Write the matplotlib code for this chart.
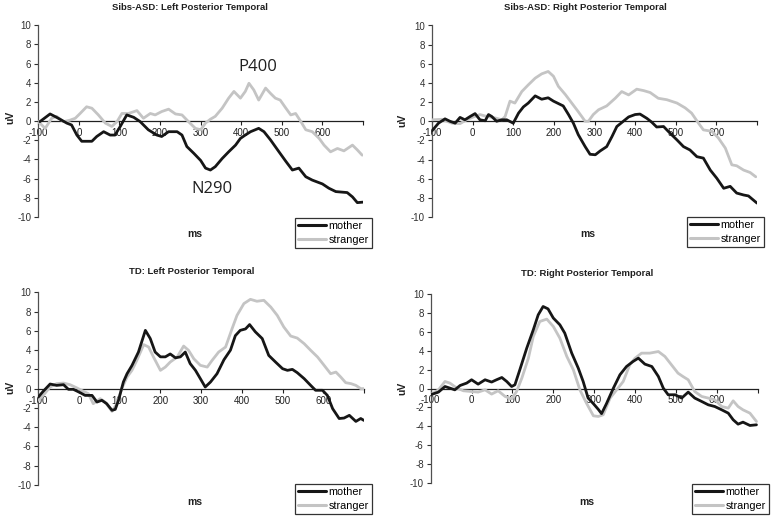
import numpy as np
import matplotlib
matplotlib.use("Agg")
import matplotlib.pyplot as plt

plt.rcParams['font.family'] = ['Liberation Sans', 'DejaVu Sans']

# --- data (ms, uV) ---
titles = ["Sibs-ASD: Left Posterior Temporal", "Sibs-ASD: Right Posterior Temporal",
          "TD: Left Posterior Temporal", "TD: Right Posterior Temporal"]
series_names = ["mother", "stranger"]
xticks = [-100, 0, 100, 200, 300, 400, 500, 600, 700]
xtick_labels = ["-100", "0", "100", "200", "300", "400", "500", "600", ""]
yticks = [-10, -8, -6, -4, -2, 0, 2, 4, 6, 8, 10]

asd_left_mother_t = [-96, -71, -55, -30, -18, -5, 7, 32, 44, 61, 77, 89, 102, 118, 135, 151, 171, 192, 204,
                     221, 242, 254, 266, 283, 300, 312, 324, 336, 353, 369, 386, 398, 410, 423, 443, 456, 472,
                     493, 510, 526, 542, 559, 575, 600, 616, 633, 661, 674, 686, 700]
asd_left_mother_v = [-0.05, 0.75, 0.4, -0.2, -0.4, -1.45, -2.1, -2.1, -1.6, -1.1, -1.45, -1.45, -0.55, 0.65,
                     0.4, -0.05, -0.9, -1.45, -1.6, -1.1, -1.1, -1.45, -2.65, -3.35, -4.1, -4.9, -5.1, -4.75,
                     -3.9, -3.2, -2.5, -1.8, -1.45, -1.1, -0.75, -1.1, -1.95, -3.2, -4.2, -5.1, -4.9, -5.8,
                     -6.15, -6.55, -7.0, -7.35, -7.45, -7.9, -8.5, -8.45]
asd_left_stranger_t = [-100, -83, -67, -55, -38, -22, -9, 3, 19, 32, 48, 65, 81, 94, 106, 122, 143, 159, 176,
                       188, 204, 221, 238, 254, 270, 287, 300, 312, 324, 336, 353, 369, 382, 398, 410, 419,
                       431, 443, 460, 472, 484, 496, 510, 522, 534, 547, 559, 575, 592, 604, 620, 637, 653,
                       674, 686, 698]
asd_left_stranger_v = [-0.05, -0.75, 0.3, 0.5, -0.05, 0.1, 0.3, 0.8, 1.5, 1.35, 0.65, -0.2, -0.55, -0.05,
                       0.8, 0.8, 1.1, 0.3, 0.8, 0.65, 1.0, 1.25, 0.75, 0.65, -0.05, -0.75, -0.9, -0.2, 0.2,
                       0.5, 1.35, 2.4, 3.1, 2.4, 3.1, 3.95, 3.25, 2.2, 3.45, 2.9, 2.4, 2.2, 1.35, 0.65, 0.8,
                       -0.05, -0.9, -1.1, -1.8, -2.5, -3.2, -2.85, -3.1, -2.5, -3.0, -3.55]

asd_right_mother_t = [-100, -84, -68, -56, -43, -31, -19, -6, 6, 18, 31, 39, 47, 59, 72, 84, 100, 113, 125,
                      137, 154, 170, 186, 199, 211, 223, 236, 248, 260, 277, 289, 302, 314, 330, 343, 355,
                      371, 384, 400, 412, 429, 441, 453, 470, 486, 503, 519, 535, 552, 568, 585, 601, 618,
                      634, 650, 667, 679, 700]
asd_right_mother_v = [-1.0, -0.2, 0.25, 0, -0.2, 0.4, 0.15, 0.5, 0.8, 0.15, 0.05, 0.7, 0.5, 0, 0.15, 0.15,
                      -0.2, 0.85, 1.5, 1.9, 2.65, 2.3, 2.45, 2.1, 1.85, 1.6, 0.7, -0.2, -1.4, -2.65, -3.45,
                      -3.5, -3.1, -2.65, -1.6, -0.55, 0, 0.45, 0.7, 0.75, 0.3, -0.1, -0.6, -0.55, -1.25,
                      -1.95, -2.65, -3.0, -3.7, -3.85, -5.1, -5.95, -7.0, -6.8, -7.5, -7.7, -7.8, -8.55]
asd_right_stranger_t = [-100, -76, -51, -31, -15, 2, 18, 35, 55, 72, 80, 92, 104, 121, 137, 154, 170, 186,
                        199, 211, 228, 244, 260, 277, 285, 297, 310, 330, 351, 367, 384, 404, 421, 437, 457,
                        478, 503, 523, 539, 556, 568, 589, 605, 622, 638, 650, 667, 683, 697]
asd_right_stranger_v = [0.15, 0.2, -0.2, -0.25, 0.15, 0.45, 0.7, 0.5, 0.35, 0.15, 0.5, 2.1, 1.9, 3.1, 3.8,
                        4.5, 4.95, 5.2, 4.7, 3.65, 2.8, 1.9, 1.0, 0, 0, 0.7, 1.2, 1.6, 2.4, 3.1, 2.75, 3.35,
                        3.2, 3.0, 2.4, 2.25, 1.9, 1.4, 0.85, -0.2, -0.9, -1.05, -1.75, -2.8, -4.55, -4.65,
                        -5.1, -5.35, -5.8]

td_left_mother_t = [-100, -88, -71, -55, -38, -26, -14, 3, 15, 32, 44, 56, 68, 81, 89, 97, 109, 118, 130,
                    146, 163, 175, 187, 200, 212, 224, 237, 249, 261, 273, 286, 298, 310, 323, 339, 356, 372,
                    384, 396, 409, 419, 433, 450, 466, 483, 500, 512, 524, 536, 553, 569, 581, 598, 610, 623,
                    639, 651, 664, 680, 692, 700]
td_left_mother_v = [-0.87, -0.28, 0.48, 0.34, 0.41, -0.07, -0.07, -0.42, -0.7, -0.7, -1.39, -1.21, -1.56,
                    -2.25, -2.15, -1.21, 0.69, 1.55, 2.4, 3.8, 6.05, 5.2, 3.8, 3.3, 3.3, 3.6, 3.2, 3.3, 3.8,
                    2.6, 1.9, 1.04, 0.17, 0.69, 1.55, 3.0, 4.0, 5.5, 6.05, 6.2, 6.65, 5.9, 5.2, 3.45, 2.75,
                    2.07, 1.9, 2.0, 1.66, 1.04, 0.34, -0.17, -0.17, -0.7, -2.08, -3.1, -3.05, -2.77, -3.4,
                    -3.1, -3.3]
td_left_stranger_t = [-100, -88, -71, -55, -38, -22, -5, 11, 23, 35, 52, 64, 81, 93, 105, 118, 130, 142, 159,
                      171, 183, 200, 212, 224, 241, 257, 269, 282, 298, 315, 327, 343, 360, 376, 388, 405,
                      421, 437, 454, 471, 487, 503, 520, 536, 553, 569, 586, 602, 618, 631, 643, 655, 668,
                      680, 692, 700]
td_left_stranger_v = [-1.2, -0.7, 0.17, 0.52, 0.58, 0.41, 0.07, -0.28, -0.52, -1.56, -1.04, -1.39, -2.36,
                      -1.56, 0, 1.2, 1.9, 2.94, 4.57, 4.32, 3.28, 1.9, 2.24, 2.76, 3.28, 4.42, 3.98, 3.1,
                      2.42, 2.24, 2.94, 3.8, 4.32, 6.23, 7.6, 8.83, 9.27, 9.07, 9.17, 8.47, 7.6, 6.4, 5.46,
                      5.25, 4.67, 3.98, 3.28, 2.42, 1.55, 1.72, 1.2, 0.62, 0.52, 0.34, 0, 0]

td_right_mother_t = [-100, -81, -65, -53, -41, -28, -12, 0, 16, 33, 49, 61, 74, 86, 98, 106, 118, 135, 151,
                     163, 175, 187, 200, 216, 228, 245, 261, 273, 285, 298, 310, 318, 330, 347, 363, 379,
                     395, 408, 424, 441, 457, 469, 481, 498, 514, 530, 546, 563, 579, 595, 612, 628, 640,
                     652, 664, 681, 697]
td_right_mother_v = [-0.66, -0.38, 0.21, 0.04, -0.14, 0.32, 0.57, 0.92, 0.46, 0.92, 0.68, 0.92, 1.16, 0.74,
                     0.21, 0.39, 1.97, 4.26, 6.19, 7.77, 8.65, 8.4, 7.43, 6.72, 5.84, 3.73, 2.15, 0.74,
                     -1.0, -1.6, -2.2, -2.65, -1.6, 0.04, 1.45, 2.32, 2.85, 3.2, 2.57, 2.32, 1.27, 0.04,
                     -0.66, -0.66, -1.01, -0.38, -1.01, -1.37, -1.72, -1.9, -2.25, -2.6, -3.3, -3.76,
                     -3.55, -3.9, -3.83]
td_right_stranger_t = [-100, -81, -65, -53, -36, -20, 0, 16, 33, 49, 65, 82, 98, 110, 123, 139, 151, 167,
                       184, 200, 216, 233, 249, 265, 281, 298, 310, 322, 339, 355, 371, 387, 400, 416, 436,
                       457, 473, 489, 505, 517, 530, 546, 563, 579, 595, 612, 628, 640, 652, 664, 681, 697]
td_right_stranger_v = [-0.66, -0.14, 0.74, 0.57, 0.04, -0.24, -0.32, -0.38, -0.14, -0.59, -0.24, -0.84,
                       -1.09, -0.32, 1.1, 3.2, 5.49, 7.07, 7.32, 6.54, 5.31, 3.38, 1.97, -0.14, -1.54,
                       -2.88, -2.95, -2.77, -1.01, -0.14, 0.74, 2.5, 3.2, 3.73, 3.73, 3.9, 3.38, 2.5, 1.62,
                       1.27, 0.92, -0.32, -0.84, -1.01, -1.19, -1.9, -2.07, -1.3, -1.9, -2.25, -2.6, -3.48]

panels = [
    (asd_left_mother_t, asd_left_mother_v, asd_left_stranger_t, asd_left_stranger_v),
    (asd_right_mother_t, asd_right_mother_v, asd_right_stranger_t, asd_right_stranger_v),
    (td_left_mother_t, td_left_mother_v, td_left_stranger_t, td_left_stranger_v),
    (td_right_mother_t, td_right_mother_v, td_right_stranger_t, td_right_stranger_v),
]

W, H = 771, 522
fig = plt.figure(figsize=(W / 100, H / 100), dpi=100)
fig.patch.set_facecolor('white')

# axes rectangles in pixels: left, top(y=10), right(x=700), bottom(y=-10)
rects = [(38.3, 25.3, 363, 217), (432, 25.5, 757, 217),
         (38.3, 292.3, 364, 485), (430.7, 293.7, 757.7, 483.3)]
title_pos = [(190, 8), (585, 8), (192, 272), (587, 273)]
ms_pos = [(195, 234), (588, 234), (195, 502), (587, 502)]
uv_pos = [(10, 117), (402, 120), (10, 387), (402, 388)]
leg_pos = [(295, 218), (687, 217), (295, 484), (692, 484)]

BLACK = '#161616'
GRAY = '#c4c4c4'

for i, (mt, mv, st, sv) in enumerate(panels):
    l, t, r, b = rects[i]
    ax = fig.add_axes([l / W, 1 - b / H, (r - l) / W, (b - t) / H])
    ax.plot(st, sv, color=GRAY, lw=2.0, solid_joinstyle='round', solid_capstyle='round', label=series_names[1], zorder=3)
    ax.plot(mt, mv, color=BLACK, lw=2.0, solid_joinstyle='round', solid_capstyle='round', label=series_names[0], zorder=4)
    ax.set_xlim(-100, 700)
    ax.set_ylim(-10, 10)
    ax.spines['top'].set_visible(False)
    ax.spines['right'].set_visible(False)
    ax.spines['bottom'].set_position(('data', 0))
    ax.spines['bottom'].set_linewidth(0.9)
    ax.spines['bottom'].set_color('#202020')
    ax.spines['left'].set_linewidth(0.9)
    ax.spines['left'].set_color('#505050')
    ax.set_xticks(xticks)
    ax.set_xticklabels(xtick_labels)
    ax.set_yticks(yticks)
    ax.set_yticklabels([str(v) for v in yticks])
    ax.tick_params(axis='x', direction='out', length=3, width=0.8, pad=2, labelsize=7, colors='#202020')
    ax.tick_params(axis='y', direction='out', length=3, width=0.8, pad=2, labelsize=7, colors='#303030')
    ax.patch.set_alpha(0)

    fig.text(title_pos[i][0] / W, 1 - title_pos[i][1] / H, titles[i], ha='center', va='center',
             fontsize=6.8, fontweight='bold', color='#202020')
    fig.text(ms_pos[i][0] / W, 1 - ms_pos[i][1] / H, "ms", ha='center', va='center',
             fontsize=7.5, fontweight='bold', color='#202020')
    fig.text(uv_pos[i][0] / W, 1 - uv_pos[i][1] / H, "uV", ha='center', va='center',
             fontsize=7.5, fontweight='bold', rotation=90, color='#202020')

    handles, labels = ax.get_legend_handles_labels()
    leg = ax.legend(handles[::-1], labels[::-1], loc='upper left',
                    bbox_to_anchor=(leg_pos[i][0] / W, 1 - leg_pos[i][1] / H),
                    bbox_transform=fig.transFigure, fontsize=7.8, frameon=True, fancybox=False,
                    edgecolor='black', borderpad=0.3, handlelength=2.6, handletextpad=0.2,
                    labelspacing=0.35, borderaxespad=0)
    leg.get_frame().set_linewidth(0.9)
    for line in leg.get_lines():
        line.set_linewidth(2.2)

    if i == 0:
        ax.text(441, 5.6, "P400", ha='center', va='center', fontsize=12,
                family=['Open Sans', 'DejaVu Sans'], color='#202020')
        ax.text(328, -7.1, "N290", ha='center', va='center', fontsize=12,
                family=['Open Sans', 'DejaVu Sans'], color='#202020')

fig.savefig("out.png", dpi=100)
